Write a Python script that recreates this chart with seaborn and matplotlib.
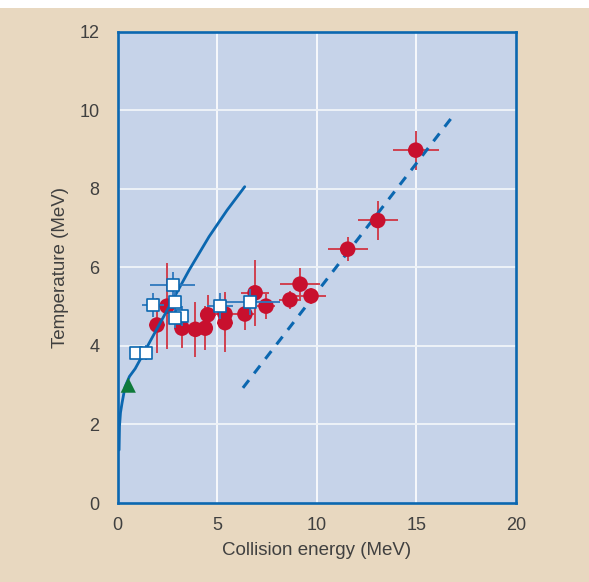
import matplotlib
matplotlib.use("Agg")
import matplotlib.pyplot as plt
import seaborn as sns
import pandas as pd
from matplotlib.patches import Rectangle

# ---- data ----
red_E = [1.98, 2.49, 3.24, 3.91, 4.41, 4.53, 5.40, 5.40, 6.40, 6.91, 7.46, 8.66, 9.17, 9.72, 11.56, 13.07, 14.98]
red_T = [4.53, 5.01, 4.45, 4.42, 4.45, 4.79, 4.81, 4.59, 4.81, 5.35, 5.01, 5.17, 5.57, 5.27, 6.46, 7.19, 8.98]
red_Eerr = [0.4, 0.4, 0.4, 0.4, 0.4, 0.4, 0.6, 0.4, 0.5, 0.7, 0.45, 0.55, 1.0, 0.75, 1.0, 1.0, 1.16]
red_Terr = [0.7, 1.1, 0.5, 0.7, 0.56, 0.5, 0.55, 0.74, 0.4, 0.84, 0.33, 0.23, 0.4, 0.2, 0.31, 0.5, 0.5]

sq_E = [0.93, 1.43, 1.77, 2.77, 3.24, 2.90, 2.87, 5.15, 6.65]
sq_T = [3.83, 3.83, 5.04, 5.55, 4.76, 5.11, 4.70, 5.02, 5.12]
sq_Eerr = [0.0, 0.0, 0.55, 1.13, 0.3, 0.3, 0.3, 0.65, 1.5]
sq_Terr = [0.0, 0.2, 0.3, 0.34, 0.25, 0.25, 0.25, 0.33, 0.33]

tri_E = [0.54]
tri_T = [3.0]

curve_E = [0.08, 0.1, 0.15, 0.23, 0.38, 0.6, 0.89, 1.3, 2.0, 2.8, 3.6, 4.6, 5.5, 6.39]
curve_T = [1.35, 1.95, 2.3, 2.55, 2.96, 3.22, 3.42, 3.8, 4.45, 5.19, 5.93, 6.78, 7.45, 8.05]

dash_E = [6.3, 16.85]
dash_T = [2.93, 9.85]

x_ticks = [0, 5, 10, 15, 20]
y_ticks = [0, 2, 4, 6, 8, 10, 12]
x_label = "Collision energy (MeV)"
y_label = "Temperature (MeV)"

# ---- style ----
BEIGE = "#e8d8c0"
PLOTBG = "#c6d3e9"
BLUE = "#0b67b0"
RED = "#c8102e"
REDERR = "#d0404f"
GREEN = "#0f7a3a"
TXT = "#404040"

sns.set_theme(style="white")
plt.rcParams["font.family"] = ["Liberation Sans", "DejaVu Sans"]

fig = plt.figure(figsize=(5.89, 5.82), dpi=100, facecolor=BEIGE)
fig.patches.append(Rectangle((0, 1 - 8 / 582), 1, 8 / 582, transform=fig.transFigure,
                             facecolor="white", edgecolor="none", zorder=0))
ax = fig.add_axes([117.5 / 589, 1 - 503 / 582, (515.7 - 117.5) / 589, (503 - 31.5) / 582])
ax.set_facecolor(PLOTBG)

ax.set_xlim(0, 20)
ax.set_ylim(0, 12)
ax.set_xticks(x_ticks)
ax.set_yticks(y_ticks)
for v in [5, 10, 15]:
    ax.axvline(v, color="white", lw=1.2, zorder=1)
for v in [2, 4, 6, 8, 10]:
    ax.axhline(v, color="#eef2f8", lw=1.4, zorder=1)

# red error bars
ax.errorbar(red_E, red_T, xerr=red_Eerr, yerr=red_Terr, fmt="none",
            ecolor=REDERR, elinewidth=1.4, capsize=0, zorder=2)
# dashed line
sns.lineplot(x=dash_E, y=dash_T, ax=ax, color=BLUE, lw=2.2, sort=False,
             estimator=None, zorder=3).lines[-1].set_dashes([3.2, 2.8])
# red circles
sns.scatterplot(x=red_E, y=red_T, ax=ax, color=RED, s=125, marker="o",
                edgecolor="none", linewidth=0, zorder=4)
# solid curve
sns.lineplot(x=curve_E, y=curve_T, ax=ax, color=BLUE, lw=2.0, sort=False,
             estimator=None, zorder=5)
# blue square error bars
ax.errorbar(sq_E, sq_T, xerr=sq_Eerr, yerr=sq_Terr, fmt="none",
            ecolor="#2f78bd", elinewidth=1.3, capsize=0, zorder=6)
# open squares (drawn one by one to preserve overlap order)
for i, (e, t) in enumerate(zip(sq_E, sq_T)):
    sns.scatterplot(x=[e], y=[t], ax=ax, color="white", s=82, marker="s",
                    edgecolor=BLUE, linewidth=1.2, zorder=7 + i * 0.01)
# green triangle
sns.scatterplot(x=tri_E, y=tri_T, ax=ax, color=GREEN, s=120, marker="^",
                edgecolor="none", linewidth=0, zorder=8)

for s in ax.spines.values():
    s.set_visible(True)
    s.set_color(BLUE)
    s.set_linewidth(1.9)
    s.set_zorder(10)

ax.tick_params(axis="both", length=0, labelsize=13, labelcolor=TXT)
ax.tick_params(axis="x", pad=10)
ax.tick_params(axis="y", pad=13)
ax.set_xlabel(x_label, fontsize=13.5, color=TXT, labelpad=6)
ax.set_ylabel(y_label, fontsize=13.5, color=TXT, labelpad=7.5)

fig.savefig("out.png", dpi=100, facecolor=BEIGE)
